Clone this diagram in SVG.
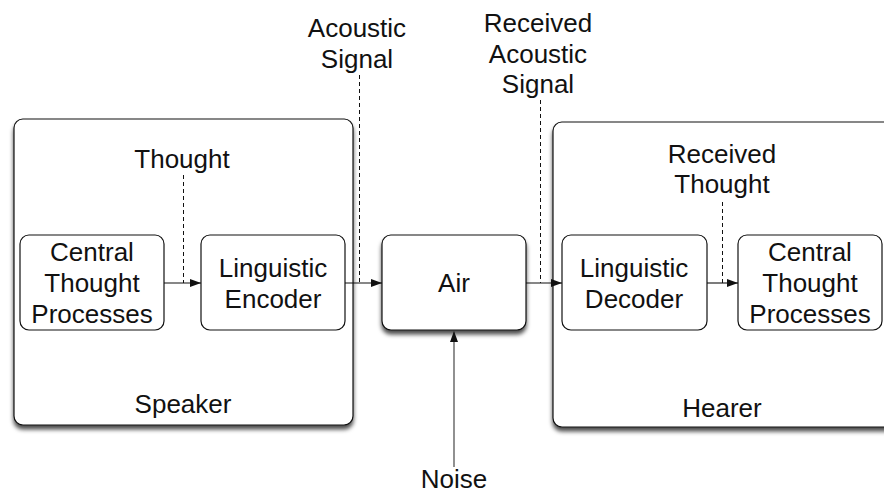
<svg xmlns="http://www.w3.org/2000/svg" width="884" height="493" viewBox="0 0 884 493">
  <style>
    .box { fill: #ffffff; stroke: #111111; stroke-width: 1.2; }
    .outer { filter: url(#shadow); }
    text { font-family: "Liberation Sans", Arial, Helvetica, sans-serif; font-size: 26px; fill: #111111; text-anchor: middle; }
    .conn { stroke: #111111; stroke-width: 1.1; fill: none; }
    .dash { stroke: #111111; stroke-width: 1; fill: none; stroke-dasharray: 4 3; }
    .noise { stroke: #555555; stroke-width: 1.3; fill: none; }
  </style>
  <defs>
    <filter id="shadow" x="-10%" y="-10%" width="130%" height="130%">
      <feDropShadow dx="0" dy="4" stdDeviation="2.2" flood-color="#000000" flood-opacity="0.7"/>
    </filter>
    <marker id="arrow" markerUnits="userSpaceOnUse" markerWidth="11" markerHeight="8" refX="11" refY="4" orient="auto">
      <path d="M0,0 L11,4 L0,8 z" fill="#111111"/>
    </marker>
  </defs>

  <g id="speaker">
    <rect class="box outer" x="14" y="119" width="339" height="306" rx="9"/>
    <text x="183" y="413">Speaker</text>
  </g>
  <g id="hearer">
    <rect class="box outer" x="553" y="122" width="360" height="305" rx="9"/>
    <text x="722" y="417">Hearer</text>
  </g>
  <g id="air">
    <rect class="box outer" x="382" y="235" width="144" height="95" rx="9"/>
    <text x="454" y="292">Air</text>
  </g>
  <g id="central-thought-speaker">
    <rect class="box" x="20" y="235" width="144" height="95" rx="9"/>
    <text x="92" y="261">Central</text>
    <text x="92" y="292">Thought</text>
    <text x="92" y="323">Processes</text>
  </g>
  <g id="linguistic-encoder">
    <rect class="box" x="201" y="235" width="144" height="95" rx="9"/>
    <text x="273" y="277">Linguistic</text>
    <text x="273" y="308">Encoder</text>
  </g>
  <g id="linguistic-decoder">
    <rect class="box" x="562" y="235" width="145" height="95" rx="9"/>
    <text x="634" y="277">Linguistic</text>
    <text x="634" y="308">Decoder</text>
  </g>
  <g id="central-thought-hearer">
    <rect class="box" x="738" y="235" width="144" height="95" rx="9"/>
    <text x="810" y="261">Central</text>
    <text x="810" y="292">Thought</text>
    <text x="810" y="323">Processes</text>
  </g>
  <g id="label-thought">
    <text x="182" y="168">Thought</text>
  </g>
  <g id="label-acoustic-signal">
    <text x="357" y="37">Acoustic</text>
    <text x="357" y="68">Signal</text>
  </g>
  <g id="label-received-acoustic-signal">
    <text x="538" y="32">Received</text>
    <text x="538" y="63">Acoustic</text>
    <text x="538" y="93">Signal</text>
  </g>
  <g id="label-received-thought">
    <text x="722" y="163">Received</text>
    <text x="722" y="193">Thought</text>
  </g>
  <g id="label-noise">
    <text x="454" y="488">Noise</text>
  </g>

  <g id="connectors">
    <line class="conn" x1="164" y1="283" x2="201" y2="283" marker-end="url(#arrow)"/>
    <line class="dash" x1="183.5" y1="175" x2="183.5" y2="283"/>
    <line class="conn" x1="345" y1="283" x2="382" y2="283" marker-end="url(#arrow)"/>
    <line class="dash" x1="359.5" y1="75" x2="359.5" y2="283"/>
    <line class="conn" x1="526" y1="283" x2="562" y2="283" marker-end="url(#arrow)"/>
    <line class="dash" x1="540.5" y1="100" x2="540.5" y2="283"/>
    <line class="conn" x1="707" y1="283" x2="738" y2="283" marker-end="url(#arrow)"/>
    <line class="dash" x1="722.5" y1="202" x2="722.5" y2="283"/>
    <line class="noise" x1="454" y1="467" x2="454" y2="331" marker-end="url(#arrow)"/>
  </g>
</svg>
